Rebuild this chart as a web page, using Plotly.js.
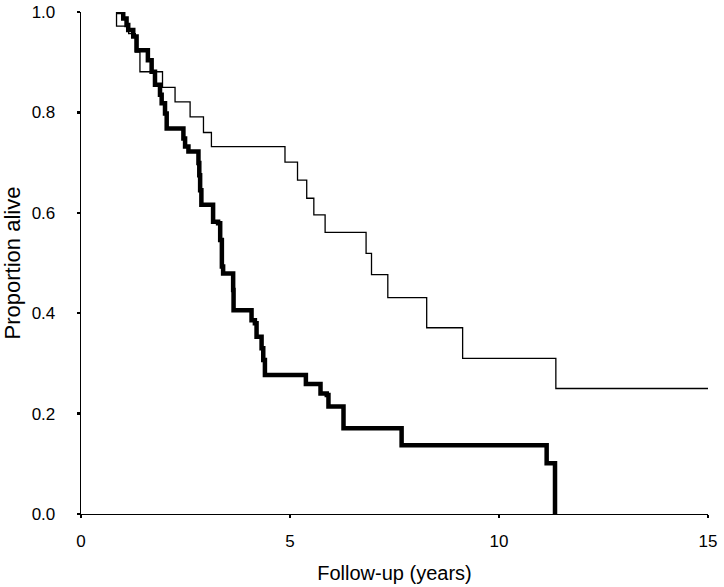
<!DOCTYPE html>
<html>
<head>
<meta charset="utf-8">
<script src="https://cdn.plot.ly/plotly-3.0.1.min.js"></script>
<style>html,body{margin:0;padding:0;background:#fff}#chart{width:724px;height:587px}</style>
</head>
<body>
<div id="chart"></div>
<script>
// Thin curve (group 1): step times (years) and survival after each step
var thinTime = [0.85, 0.85, 1.14, 1.30, 1.41, 1.95, 2.25, 2.61, 2.93, 3.12, 4.88, 5.18, 5.40, 5.57, 5.84, 6.82, 6.95, 7.34, 8.27, 9.13, 11.36, 15.0];
var thinSurv = [1.000, 0.972, 0.957, 0.920, 0.881, 0.850, 0.821, 0.791, 0.760, 0.732, 0.701, 0.665, 0.629, 0.596, 0.561, 0.519, 0.477, 0.431, 0.371, 0.310, 0.250, 0.250];

// Thick curve (group 2)
var thickTime = [0.85, 1.01, 1.09, 1.13, 1.25, 1.33, 1.60, 1.69, 1.77, 1.89, 1.93, 2.01, 2.05, 2.45, 2.49, 2.57, 2.81, 2.83, 2.85, 2.88, 3.16, 3.28, 3.33, 3.37, 3.40, 3.64, 3.65, 4.08, 4.16, 4.20, 4.32, 4.36, 4.40, 5.38, 5.73, 5.88, 5.92, 6.28, 7.67, 11.14, 11.34];
var thickSurv = [1.000, 0.987, 0.974, 0.964, 0.951, 0.924, 0.904, 0.881, 0.855, 0.835, 0.818, 0.798, 0.768, 0.748, 0.732, 0.722, 0.699, 0.675, 0.645, 0.616, 0.582, 0.579, 0.546, 0.493, 0.479, 0.446, 0.406, 0.386, 0.380, 0.353, 0.330, 0.307, 0.277, 0.259, 0.240, 0.237, 0.214, 0.171, 0.137, 0.101, 0.000];

var xTicks = [0, 5, 10, 15];
var yTicks = [0, 0.2, 0.4, 0.6, 0.8, 1.0];
var yTickText = ['0.0', '0.2', '0.4', '0.6', '0.8', '1.0'];

var traces = [
  {x: thinTime, y: thinSurv, type: 'scatter', mode: 'lines',
   line: {shape: 'hv', color: '#000', width: 1.3}, hoverinfo: 'skip'},
  {x: thickTime, y: thickSurv, type: 'scatter', mode: 'lines',
   line: {shape: 'hv', color: '#000', width: 4.5}, hoverinfo: 'skip'}
];

var font = {family: '"Liberation Sans", Arial, sans-serif', color: '#000'};

var layout = {
  width: 724, height: 587,
  margin: {l: 81, r: 16, t: 12, b: 73, pad: 0},
  paper_bgcolor: '#fff', plot_bgcolor: '#fff',
  showlegend: false,
  font: Object.assign({size: 17}, font),
  xaxis: {
    range: [0, 15], tickvals: xTicks, ticktext: xTicks.map(String),
    showgrid: false, zeroline: false, showline: true, linecolor: '#000', linewidth: 1.3,
    ticks: 'outside', ticklen: 3, tickwidth: 2.5, tickcolor: '#000',
    ticklabelstandoff: 8,
    tickfont: Object.assign({size: 17}, font),
    title: {text: 'Follow-up (years)', font: Object.assign({size: 20}, font), standoff: 16},
    automargin: false, fixedrange: true
  },
  yaxis: {
    range: [0, 1.0], tickvals: yTicks, ticktext: yTickText,
    showgrid: false, zeroline: false, showline: true, linecolor: '#000', linewidth: 1.3,
    ticks: 'outside', ticklen: 3, tickwidth: 2.5, tickcolor: '#000',
    ticklabelstandoff: 18,
    tickfont: Object.assign({size: 17}, font),
    title: {text: 'Proportion alive', font: Object.assign({size: 22}, font), standoff: 6},
    automargin: false, fixedrange: true
  }
};

Plotly.newPlot('chart', traces, layout, {staticPlot: true, displayModeBar: false});
</script>
</body>
</html>
